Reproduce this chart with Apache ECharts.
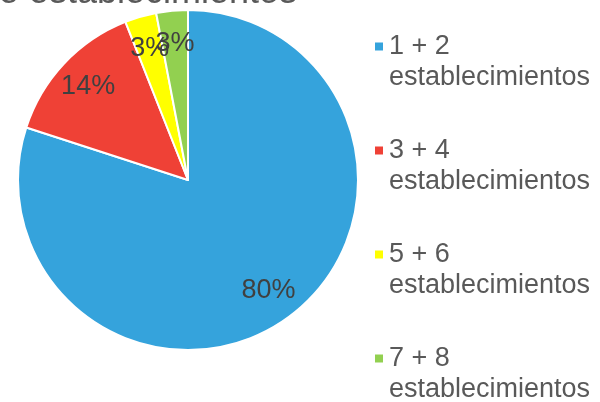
<!DOCTYPE html>
<html>
<head>
<meta charset="utf-8">
<script src="https://cdn.jsdelivr.net/npm/echarts@6/dist/echarts.min.js"></script>
<style>
  html, body { margin: 0; padding: 0; background: #fff; }
  #chart { width: 600px; height: 402px; }
</style>
</head>
<body>
<div id="chart"></div>
<script>
// datos
const categories = ["1 + 2", "3 + 4", "5 + 6", "7 + 8"];
const values = [80, 14, 3, 3];
const colors = ["#35A3DC", "#EF4136", "#FFFF00", "#92D050"];
const suffix = "establecimientos";

const pieData = categories.map((c, i) => ({
  name: c + " " + suffix,
  value: values[i],
  itemStyle: { color: colors[i] },
}));

const chart = echarts.init(document.getElementById("chart"));
chart.setOption({
  animation: false,
  graphic: [
    {
      type: "text",
      x: 297,
      y: -7,
      style: {
        text: "Número de establecimientos",
        font: "36px 'Liberation Sans', Arial, sans-serif",
        fill: "#595959",
        align: "right",
        verticalAlign: "middle",
      },
    },
  ],
  legend: {
    orient: "vertical",
    left: 368,
    top: -3,
    height: 480,
    itemWidth: 10,
    itemHeight: 10,
    itemGap: 15,
    icon: "rect",
    data: pieData.map((d) => d.name),
    formatter: (name) => {
      const head = name.replace(" " + suffix, "");
      return "{e| }\n{a|" + head + "}\n{a|" + suffix + "}";
    },
    textStyle: {
      rich: {
        e: { fontSize: 27, lineHeight: 31 },
        a: {
          fontSize: 27,
          lineHeight: 31,
          color: "#595959",
          fontFamily: "'Liberation Sans', Arial, sans-serif",
        },
      },
    },
  },
  series: [
    {
      type: "pie",
      center: [188, 180],
      radius: [0, 170],
      startAngle: 90,
      clockwise: true,
      data: pieData,
      itemStyle: { borderColor: "#fff", borderWidth: 2 },
      label: { show: false },
      labelLine: { show: false },
      emphasis: { disabled: true },
    },
    {
      // serie auxiliar solo para colocar las etiquetas a 0.8 del radio
      type: "pie",
      center: [188, 180],
      radius: [98, 170],
      startAngle: 90,
      clockwise: true,
      silent: true,
      avoidLabelOverlap: false,
      labelLayout: { hideOverlap: false },
      data: pieData.map((d) => ({ name: d.name, value: d.value })),
      itemStyle: { color: "rgba(0,0,0,0)" },
      label: {
        show: true,
        position: "inside",
        formatter: (p) => Math.round(p.percent) + "%",
        fontSize: 27,
        color: "#404040",
        fontFamily: "'Liberation Sans', Arial, sans-serif",
      },
      labelLine: { show: false },
      emphasis: { disabled: true },
    },
  ],
});
</script>
</body>
</html>
